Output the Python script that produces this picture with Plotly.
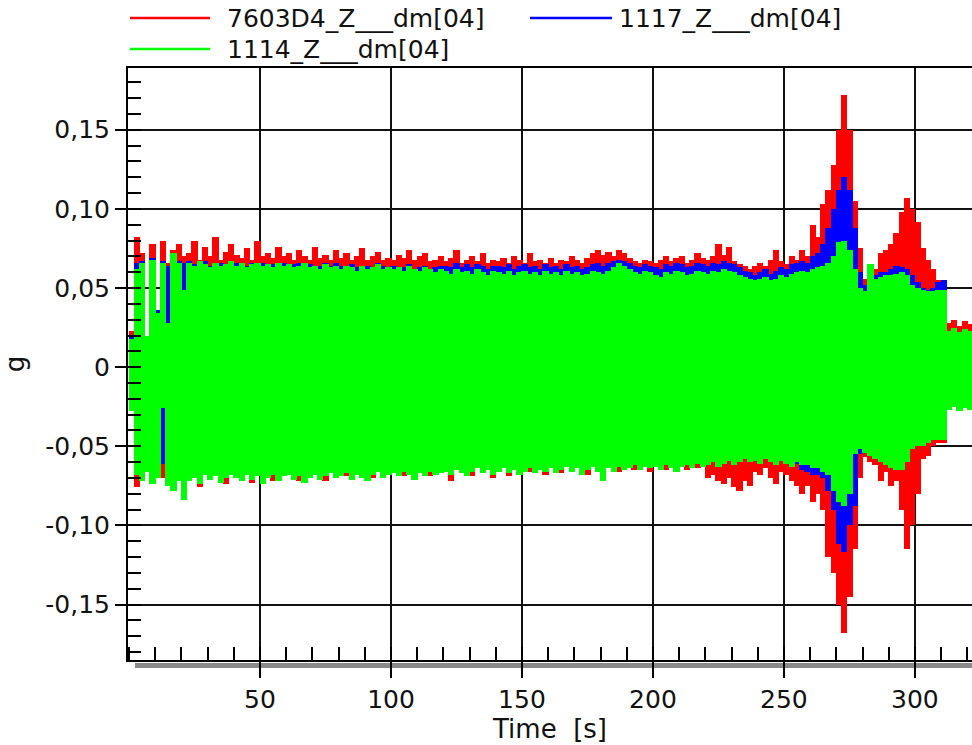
import numpy as np
import plotly.graph_objects as go

# ---------------- data (min/max envelopes, 2 s bins) ----------------
series_names = ["7603D4_Z___dm[04]", "1117_Z___dm[04]", "1114_Z___dm[04]"]
series_colors = ["#ff0000", "#0000ff", "#00ff00"]

bin_width_s = 2.0
time_s = np.arange(1, 322, 2)  # bin centres, 1 ... 321 s

red_top = [
    0.023, 0.082, 0.072, 0.018, 0.078, 0.036, 0.080, 0.066, 0.074, 0.078,
    0.070, 0.072, 0.080, 0.068, 0.076, 0.070, 0.082, 0.068, 0.073, 0.078,
    0.071, 0.069, 0.075, 0.068, 0.080, 0.070, 0.072, 0.069, 0.076, 0.070,
    0.072, 0.068, 0.074, 0.070, 0.068, 0.076, 0.069, 0.071, 0.068, 0.074,
    0.069, 0.072, 0.068, 0.070, 0.075, 0.068, 0.070, 0.073, 0.068, 0.069,
    0.068, 0.071, 0.069, 0.074, 0.068, 0.070, 0.072, 0.067, 0.068, 0.070,
    0.067, 0.069, 0.074, 0.066, 0.068, 0.070, 0.067, 0.072, 0.066, 0.068,
    0.067, 0.069, 0.066, 0.070, 0.068, 0.066, 0.072, 0.067, 0.068, 0.066,
    0.069, 0.066, 0.068, 0.067, 0.070, 0.068, 0.066, 0.069, 0.072, 0.074,
    0.071, 0.073, 0.070, 0.074, 0.072, 0.069, 0.067, 0.066, 0.068, 0.067,
    0.066, 0.068, 0.070, 0.067, 0.069, 0.070, 0.066, 0.068, 0.072, 0.069,
    0.068, 0.070, 0.078, 0.071, 0.076, 0.067, 0.065, 0.064, 0.062, 0.064,
    0.066, 0.064, 0.068, 0.074, 0.067, 0.065, 0.070, 0.068, 0.074, 0.070,
    0.090, 0.082, 0.103, 0.112, 0.128, 0.150, 0.172, 0.150, 0.105, 0.075,
    0.056, 0.057, 0.062, 0.072, 0.074, 0.078, 0.085, 0.098, 0.107, 0.100,
    0.092, 0.075, 0.068, 0.062, 0.055, 0.052, 0.028, 0.030, 0.026, 0.029, 0.027,
]
red_bottom = [
    -0.020, -0.076, -0.070, -0.064, -0.072, -0.068, -0.070, -0.073, -0.076, -0.070,
    -0.080, -0.070, -0.068, -0.076, -0.067, -0.069, -0.067, -0.071, -0.074, -0.066,
    -0.068, -0.070, -0.067, -0.073, -0.068, -0.072, -0.068, -0.072, -0.070, -0.067,
    -0.067, -0.069, -0.072, -0.071, -0.068, -0.067, -0.069, -0.072, -0.066, -0.068,
    -0.068, -0.069, -0.070, -0.067, -0.068, -0.071, -0.070, -0.065, -0.069, -0.067,
    -0.066, -0.068, -0.069, -0.067, -0.069, -0.066, -0.068, -0.069, -0.067, -0.066,
    -0.065, -0.072, -0.064, -0.066, -0.068, -0.069, -0.063, -0.066, -0.064, -0.070,
    -0.065, -0.063, -0.069, -0.064, -0.067, -0.065, -0.066, -0.066, -0.064, -0.068,
    -0.063, -0.066, -0.067, -0.062, -0.065, -0.063, -0.067, -0.068, -0.062, -0.065,
    -0.070, -0.063, -0.065, -0.066, -0.064, -0.063, -0.065, -0.064, -0.062, -0.066,
    -0.062, -0.064, -0.065, -0.063, -0.065, -0.062, -0.065, -0.063, -0.064, -0.062,
    -0.070, -0.068, -0.072, -0.074, -0.070, -0.076, -0.078, -0.072, -0.075, -0.066,
    -0.068, -0.064, -0.070, -0.074, -0.066, -0.068, -0.072, -0.075, -0.080, -0.075,
    -0.085, -0.080, -0.090, -0.120, -0.130, -0.150, -0.168, -0.145, -0.115, -0.070,
    -0.057, -0.060, -0.062, -0.072, -0.066, -0.075, -0.072, -0.090, -0.115, -0.100,
    -0.080, -0.058, -0.056, -0.050, -0.048, -0.048, -0.023, -0.022, -0.024, -0.021, -0.023,
]
blue_top = [
    0.019, 0.066, 0.067, 0.015, 0.069, 0.036, 0.067, 0.064, 0.070, 0.067,
    0.066, 0.067, 0.065, 0.066, 0.067, 0.064, 0.066, 0.066, 0.064, 0.066,
    0.066, 0.065, 0.064, 0.066, 0.065, 0.066, 0.064, 0.065, 0.065, 0.066,
    0.064, 0.065, 0.066, 0.065, 0.065, 0.063, 0.064, 0.066, 0.064, 0.066,
    0.064, 0.063, 0.065, 0.063, 0.063, 0.064, 0.062, 0.066, 0.064, 0.062,
    0.064, 0.062, 0.063, 0.065, 0.061, 0.063, 0.064, 0.061, 0.063, 0.064,
    0.064, 0.063, 0.066, 0.063, 0.065, 0.063, 0.065, 0.064, 0.062, 0.064,
    0.064, 0.063, 0.065, 0.062, 0.064, 0.065, 0.063, 0.064, 0.062, 0.065,
    0.063, 0.064, 0.062, 0.065, 0.063, 0.064, 0.062, 0.063, 0.065, 0.066,
    0.064, 0.066, 0.067, 0.068, 0.067, 0.066, 0.064, 0.063, 0.065, 0.064,
    0.063, 0.062, 0.065, 0.064, 0.066, 0.065, 0.063, 0.064, 0.066, 0.065,
    0.064, 0.066, 0.065, 0.067, 0.066, 0.065, 0.063, 0.061, 0.060, 0.058,
    0.060, 0.062, 0.059, 0.061, 0.063, 0.062, 0.065, 0.066, 0.067, 0.066,
    0.070, 0.072, 0.078, 0.088, 0.100, 0.112, 0.120, 0.112, 0.088, 0.060,
    0.052, 0.058, 0.058, 0.060, 0.060, 0.062, 0.064, 0.063, 0.062, 0.058,
    0.054, 0.050, 0.049, 0.050, 0.054, 0.055, 0.020, 0.021, 0.019, 0.020, 0.021,
]
blue_bottom = [
    -0.022, -0.066, -0.069, -0.064, -0.071, -0.068, -0.061, -0.072, -0.074, -0.070,
    -0.072, -0.070, -0.068, -0.071, -0.066, -0.069, -0.067, -0.070, -0.068, -0.066,
    -0.068, -0.069, -0.066, -0.069, -0.067, -0.071, -0.068, -0.066, -0.069, -0.067,
    -0.066, -0.069, -0.067, -0.070, -0.068, -0.066, -0.069, -0.067, -0.065, -0.068,
    -0.067, -0.065, -0.069, -0.066, -0.068, -0.069, -0.066, -0.064, -0.068, -0.066,
    -0.065, -0.067, -0.064, -0.066, -0.068, -0.065, -0.067, -0.064, -0.066, -0.065,
    -0.064, -0.066, -0.063, -0.065, -0.067, -0.064, -0.062, -0.065, -0.063, -0.066,
    -0.064, -0.062, -0.065, -0.063, -0.066, -0.064, -0.062, -0.065, -0.063, -0.064,
    -0.062, -0.065, -0.063, -0.061, -0.064, -0.062, -0.066, -0.063, -0.061, -0.064,
    -0.066, -0.062, -0.064, -0.061, -0.063, -0.062, -0.060, -0.063, -0.061, -0.062,
    -0.061, -0.063, -0.060, -0.062, -0.064, -0.061, -0.060, -0.062, -0.059, -0.061,
    -0.060, -0.058, -0.061, -0.059, -0.057, -0.060, -0.058, -0.056, -0.058, -0.057,
    -0.059, -0.056, -0.058, -0.060, -0.057, -0.059, -0.062, -0.061, -0.065, -0.066,
    -0.068, -0.068, -0.070, -0.078, -0.090, -0.112, -0.117, -0.100, -0.088, -0.055,
    -0.053, -0.055, -0.057, -0.059, -0.061, -0.063, -0.064, -0.064, -0.060, -0.051,
    -0.049, -0.048, -0.046, -0.045, -0.045, -0.045, -0.022, -0.021, -0.023, -0.022, -0.022,
]
green_top = [
    0.018, 0.062, 0.066, 0.020, 0.068, 0.034, 0.066, 0.028, 0.072, 0.066,
    0.049, 0.066, 0.064, 0.067, 0.065, 0.063, 0.066, 0.064, 0.065, 0.067,
    0.064, 0.066, 0.063, 0.065, 0.066, 0.064, 0.065, 0.063, 0.066, 0.064,
    0.065, 0.063, 0.064, 0.066, 0.063, 0.064, 0.062, 0.065, 0.063, 0.064,
    0.062, 0.064, 0.063, 0.061, 0.064, 0.062, 0.063, 0.065, 0.062, 0.063,
    0.062, 0.063, 0.061, 0.064, 0.062, 0.061, 0.063, 0.062, 0.060, 0.062,
    0.061, 0.059, 0.062, 0.060, 0.061, 0.059, 0.062, 0.060, 0.058, 0.061,
    0.060, 0.059, 0.061, 0.058, 0.060, 0.061, 0.059, 0.060, 0.058, 0.061,
    0.059, 0.060, 0.058, 0.061, 0.059, 0.060, 0.058, 0.059, 0.061, 0.060,
    0.059, 0.061, 0.063, 0.066, 0.064, 0.062, 0.060, 0.059, 0.061, 0.060,
    0.058, 0.057, 0.060, 0.059, 0.061, 0.060, 0.058, 0.059, 0.061, 0.060,
    0.059, 0.061, 0.060, 0.062, 0.061, 0.060, 0.058, 0.057, 0.056, 0.055,
    0.056, 0.057, 0.055, 0.056, 0.058, 0.057, 0.059, 0.060, 0.061, 0.060,
    0.062, 0.063, 0.064, 0.066, 0.070, 0.079, 0.080, 0.074, 0.062, 0.050,
    0.048, 0.065, 0.056, 0.057, 0.058, 0.058, 0.059, 0.060, 0.058, 0.052,
    0.050, 0.049, 0.048, 0.048, 0.049, 0.049, 0.023, 0.025, 0.022, 0.024, 0.023,
]
green_bottom = [
    -0.028, -0.068, -0.072, -0.066, -0.074, -0.070, -0.026, -0.075, -0.078, -0.072,
    -0.084, -0.072, -0.070, -0.074, -0.068, -0.071, -0.069, -0.073, -0.070, -0.068,
    -0.070, -0.072, -0.068, -0.071, -0.069, -0.074, -0.070, -0.068, -0.072, -0.069,
    -0.068, -0.071, -0.069, -0.073, -0.070, -0.068, -0.071, -0.069, -0.067, -0.070,
    -0.069, -0.067, -0.071, -0.068, -0.070, -0.072, -0.068, -0.066, -0.070, -0.068,
    -0.067, -0.069, -0.066, -0.068, -0.071, -0.067, -0.069, -0.066, -0.068, -0.067,
    -0.066, -0.068, -0.065, -0.067, -0.069, -0.066, -0.064, -0.067, -0.065, -0.068,
    -0.066, -0.064, -0.067, -0.065, -0.068, -0.066, -0.064, -0.067, -0.065, -0.066,
    -0.064, -0.067, -0.065, -0.063, -0.066, -0.064, -0.068, -0.065, -0.063, -0.066,
    -0.072, -0.064, -0.066, -0.063, -0.065, -0.064, -0.062, -0.065, -0.063, -0.064,
    -0.063, -0.065, -0.062, -0.064, -0.066, -0.063, -0.062, -0.064, -0.061, -0.063,
    -0.062, -0.060, -0.063, -0.061, -0.059, -0.062, -0.060, -0.058, -0.060, -0.059,
    -0.061, -0.058, -0.060, -0.062, -0.059, -0.061, -0.063, -0.060, -0.062, -0.062,
    -0.064, -0.064, -0.066, -0.068, -0.078, -0.085, -0.088, -0.080, -0.055, -0.052,
    -0.054, -0.056, -0.058, -0.060, -0.062, -0.064, -0.065, -0.065, -0.060, -0.052,
    -0.050, -0.050, -0.048, -0.046, -0.046, -0.046, -0.027, -0.025, -0.028, -0.026, -0.027,
]

x_tick_vals = [50, 100, 150, 200, 250, 300]
x_tick_text = ["50", "100", "150", "200", "250", "300"]
y_tick_vals = [-0.15, -0.10, -0.05, 0.0, 0.05, 0.10, 0.15]
y_tick_text = ["-0,15", "-0,10", "-0,05", "0", "0,05", "0,10", "0,15"]

x_title = "Time\u00a0\u00a0[s]"
y_title = "g"

envelopes = [
    (red_top, red_bottom),
    (blue_top, blue_bottom),
    (green_top, green_bottom),
]
for top, bot in envelopes:
    assert len(top) == len(time_s) and len(bot) == len(time_s)

# ---------------- figure ----------------
FONT = "DejaVu Sans"
TXT = "#111111"
FIG_W, FIG_H = 972, 745

fig = go.Figure()
for name, color, (top, bot) in zip(series_names, series_colors, envelopes):
    top = np.asarray(top)
    bot = np.asarray(bot)
    fig.add_trace(go.Bar(
        x=time_s, y=top - bot, base=bot, width=bin_width_s * 1.2,
        name=name, marker=dict(color=color, line=dict(width=0)),
        showlegend=False, hoverinfo="skip",
    ))

axis_common = dict(
    showline=True, linecolor="black", linewidth=2,
    showgrid=True, gridcolor="#111111", gridwidth=2,
    zeroline=False, automargin=False,
    ticks="outside", tickcolor="black", tickwidth=2,
    tickfont=dict(family=FONT, size=25, color=TXT),
)

fig.update_xaxes(
    range=[-0.4, 321.8], tickmode="array", tickvals=x_tick_vals, ticktext=x_tick_text,
    ticklen=16, mirror=True,
    minor=dict(tickmode="linear", tick0=0, dtick=10, ticks="inside", ticklen=13,
               tickwidth=2, tickcolor="black", showgrid=False),
    title=dict(text=x_title, font=dict(family=FONT, size=26, color=TXT), standoff=0),
    **axis_common,
)
fig.update_yaxes(
    range=[-0.185, 0.189], tickmode="array", tickvals=y_tick_vals, ticktext=y_tick_text,
    ticklen=11,
    minor=dict(tickmode="linear", tick0=0, dtick=0.01, ticks="inside", ticklen=13,
               tickwidth=2, tickcolor="black", showgrid=False),
    title=dict(text=y_title, font=dict(family=FONT, size=26, color=TXT), standoff=27),
    **axis_common,
)

# legend drawn as line samples + text (paper coordinates of the plot area)
PL, PW, PT, PH = 128, 844, 68, 592
def px_x(px):
    return (px - PL) / PW
def px_y(py):
    return (PT + PH - py) / PH

legend_slots = [(130, 210, 225, 18), (530, 612, 617, 18), (130, 210, 225, 49)]
shapes = []
annotations = []
for name, color, (lx0, lx1, tx, ly) in zip(series_names, series_colors, legend_slots):
    shapes.append(dict(type="line", xref="paper", yref="paper",
                       x0=px_x(lx0), x1=px_x(lx1), y0=px_y(ly), y1=px_y(ly),
                       line=dict(color=color, width=2.5)))
    annotations.append(dict(xref="paper", yref="paper", x=px_x(tx), y=px_y(ly),
                            text=name, showarrow=False, xanchor="left", yanchor="middle",
                            font=dict(family=FONT, size=25, color=TXT)))

# grey shadow beneath the time axis
shapes.append(dict(type="rect", xref="paper", yref="paper",
                   x0=px_x(135), x1=1.0, y0=px_y(663), y1=px_y(668),
                   fillcolor="#8a8a8a", line=dict(width=0), layer="below"))

fig.update_layout(
    width=FIG_W, height=FIG_H,
    margin=dict(l=PL, r=0, t=PT, b=FIG_H - PT - PH, pad=0),
    paper_bgcolor="white", plot_bgcolor="white",
    barmode="overlay", bargap=0,
    showlegend=False,
    shapes=shapes, annotations=annotations,
    font=dict(family=FONT, color=TXT),
)

# remove the page's default body margin so the figure sits at the window's corner
fig.write_html(
    "out.html",
    config={"displayModeBar": False},
    post_script="document.body.style.margin='0';document.body.style.overflow='hidden';",
)
